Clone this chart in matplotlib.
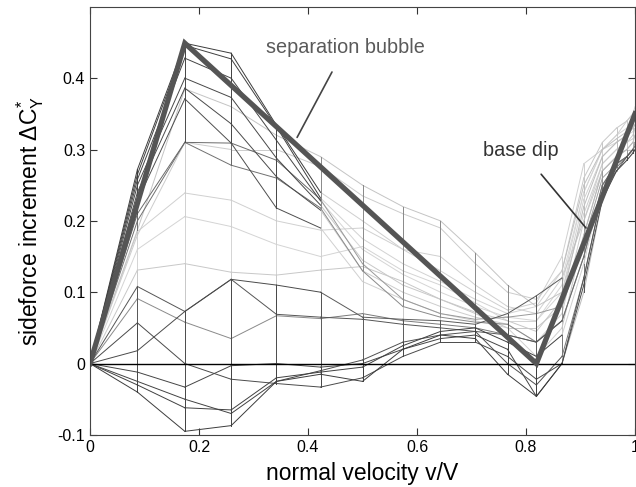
import numpy as np
import matplotlib
matplotlib.use('Agg')
import matplotlib.pyplot as plt

plt.rcParams['font.family'] = ['Liberation Sans', 'DejaVu Sans']
plt.rcParams['mathtext.fontset'] = 'custom'
plt.rcParams['mathtext.rm'] = 'Liberation Sans'
plt.rcParams['mathtext.it'] = 'Liberation Sans:italic'

# normal velocity stations (mesh columns)
x = [0, .087, .174, .259, .342, .423, .5, .574, .643, .707, .766, .819, .866, .906, .940, .966, .985, .996, 1.0]

# sideforce increment curves, one per case
curves = [
    [0, .272, .449, .435, .334, .240, .200, .160, .130, .100, .075, .085, .150, .280, .300, .320, .340, .350, .360],
    [0, .265, .446, .427, .332, .232, .175, .140, .115, .090, .070, .080, .130, .260, .310, .330, .340, .350, .355],
    [0, .258, .428, .400, .313, .228, .160, .125, .100, .080, .065, .060, .110, .240, .300, .320, .330, .340, .345],
    [0, .250, .400, .373, .288, .222, .145, .110, .090, .072, .060, .045, .090, .220, .290, .310, .320, .330, .335],
    [0, .240, .386, .336, .262, .215, .130, .100, .080, .065, .055, .030, .070, .200, .280, .300, .310, .320, .330],
    [0, .228, .371, .309, .218, .190, .115, .090, .070, .060, .050, .010, .050, .180, .270, .290, .300, .310, .320],
    [0, .210, .310, .309, .285, .230, .140, .090, .070, .062, .065, .070, .080, .170, .260, .280, .290, .300, .310],
    [0, .200, .310, .278, .260, .218, .130, .080, .065, .058, .055, .030, .060, .150, .250, .275, .290, .300, .305],
    [0, .187, .385, .360, .320, .290, .250, .220, .200, .155, .110, .080, .100, .230, .290, .310, .320, .330, .330],
    [0, .180, .310, .300, .300, .276, .235, .210, .190, .140, .100, .090, .130, .250, .300, .315, .325, .330, .335],
    [0, .185, .239, .229, .200, .187, .190, .160, .150, .110, .080, .070, .120, .240, .300, .310, .320, .325, .330],
    [0, .160, .206, .192, .167, .150, .164, .130, .110, .085, .060, .060, .100, .210, .280, .300, .310, .315, .320],
    [0, .131, .140, .128, .124, .131, .136, .115, .090, .070, .050, .050, .080, .180, .270, .290, .300, .310, .310],
    [0, .091, .058, .035, .067, .063, .070, .060, .055, .050, .040, .030, .060, .150, .250, .280, .290, .300, .300],
    [0, .108, .073, .118, .069, .065, .062, .055, .050, .045, .040, .030, .060, .150, .250, .280, .290, .300, .300],
    [0, .018, .073, .118, .110, .100, .065, .062, .060, .055, .070, .095, .120, .200, .270, .290, .300, .300, .300],
    [0, .057, .000, -.022, -.028, -.033, -.020, .010, .030, .030, .010, -.022, .000, .120, .240, .270, .290, .300, .300],
    [0, -.012, -.033, -.003, .000, -.005, .000, .020, .035, .040, .020, -.046, .000, .100, .230, .270, .285, .295, .300],
    [0, -.025, -.050, -.070, -.025, -.010, .005, .030, .040, .045, .000, -.030, .010, .120, .240, .275, .290, .300, .305],
    [0, -.030, -.062, -.065, -.020, -.012, -.005, .025, .045, .050, .030, .010, .040, .140, .250, .280, .290, .300, .305],
    [0, -.040, -.095, -.087, -.025, -.015, -.025, .020, .040, .035, -.015, -.046, .000, .110, .230, .270, .285, .295, .300],
]
# grey of each curve: up to v/V=0.42, up to 0.87, and the rest
grey_head = ['#3c3c3c', '#404040', '#444444', '#474747', '#4a4a4a', '#4e4e4e', '#6a6a6a', '#707070',
             '#c4c4c4', '#cccccc', '#d0d0d0', '#d4d4d4', '#c8c8c8', '#8a8a8a', '#555555', '#4a4a4a',
             '#4a4a4a', '#454545', '#424242', '#404040', '#3c3c3c']
grey_mid = ['#cfcfcf', '#d2d2d2', '#d5d5d5', '#c8c8c8', '#cdcdcd', '#d0d0d0', '#9a9a9a', '#8a8a8a',
            '#c4c4c4', '#cccccc', '#d0d0d0', '#d4d4d4', '#c8c8c8', '#7a7a7a', '#555555', '#5a5a5a',
            '#4a4a4a', '#454545', '#505050', '#404040', '#3c3c3c']
grey_tail = ['#d0d0d0', '#c8c8c8', '#d4d4d4', '#bdbdbd', '#cccccc', '#c4c4c4', '#a0a0a0', '#d8d8d8',
             '#d0d0d0', '#c0c0c0', '#d8d8d8', '#cfcfcf', '#b8b8b8', '#6a6a6a', '#999999', '#c8c8c8',
             '#555555', '#bbbbbb', '#777777', '#d0d0d0', '#4a4a4a']

# idealised trend line
trend_x = [0, 0.174, 0.819, 1.0]
trend_y = [0, 0.449, 0.0, 0.35]

fig = plt.figure(figsize=(6.36, 4.87), dpi=100)
ax = fig.add_axes([0.1415, 0.107, 0.857, 0.879])

Y = np.array(curves)


def seg_grey(i, j):
    if j < 5:
        return grey_head[i]
    if j < 12:
        return grey_mid[i]
    return grey_tail[i]


# draw light segments first so the dark ones stay on top
segs = []
for i in range(len(curves)):
    for j in range(len(x) - 1):
        segs.append((seg_grey(i, j), [x[j], x[j + 1]], [Y[i, j], Y[i, j + 1]]))
# mesh column lines
for j, xv in enumerate(x):
    for i in range(len(curves) - 1):
        segs.append((seg_grey(i, min(j, len(x) - 2)), [xv, xv], [Y[i, j], Y[i + 1, j]]))
segs.sort(key=lambda s: -int(s[0][1:3], 16))
for col, sx, sy in segs:
    ax.plot(sx, sy, color=col, lw=0.7)

ax.axhline(0, color='black', lw=1.0)
ax.plot(trend_x, trend_y, color='#555555', lw=3.8, solid_joinstyle='miter')

ax.annotate('separation bubble', xy=(0.38, 0.317), xytext=(0.468, 0.443),
            fontsize=14.3, color='#5a5a5a', ha='center', va='center',
            arrowprops=dict(arrowstyle='-', color='#444444', lw=1.2,
                            shrinkA=10, shrinkB=0))
ax.annotate('base dip', xy=(0.91, 0.19), xytext=(0.791, 0.299),
            fontsize=14.3, color='#333333', ha='center', va='center',
            arrowprops=dict(arrowstyle='-', color='#333333', lw=1.2,
                            shrinkA=11, shrinkB=0))

ax.set_xlim(0, 1)
ax.set_ylim(-0.1, 0.5)
ax.set_xticks([0, 0.2, 0.4, 0.6, 0.8, 1])
ax.set_xticklabels(['0', '0.2', '0.4', '0.6', '0.8', '1'])
ax.set_yticks([-0.1, 0, 0.1, 0.2, 0.3, 0.4])
ax.set_yticklabels(['-0.1', '0', '0.1', '0.2', '0.3', '0.4'])
ax.tick_params(direction='in', top=True, right=True, labelsize=11.5, length=5, color='#333333')
for s in ax.spines.values():
    s.set_color('#444444')
ax.set_xlabel('normal velocity v/V', fontsize=16.5, labelpad=5)
ax.set_ylabel(r'sideforce increment $\Delta\mathrm{C}_\mathrm{Y}^{\!*}$', fontsize=16.5, labelpad=8)

fig.savefig('out.png', dpi=100)
